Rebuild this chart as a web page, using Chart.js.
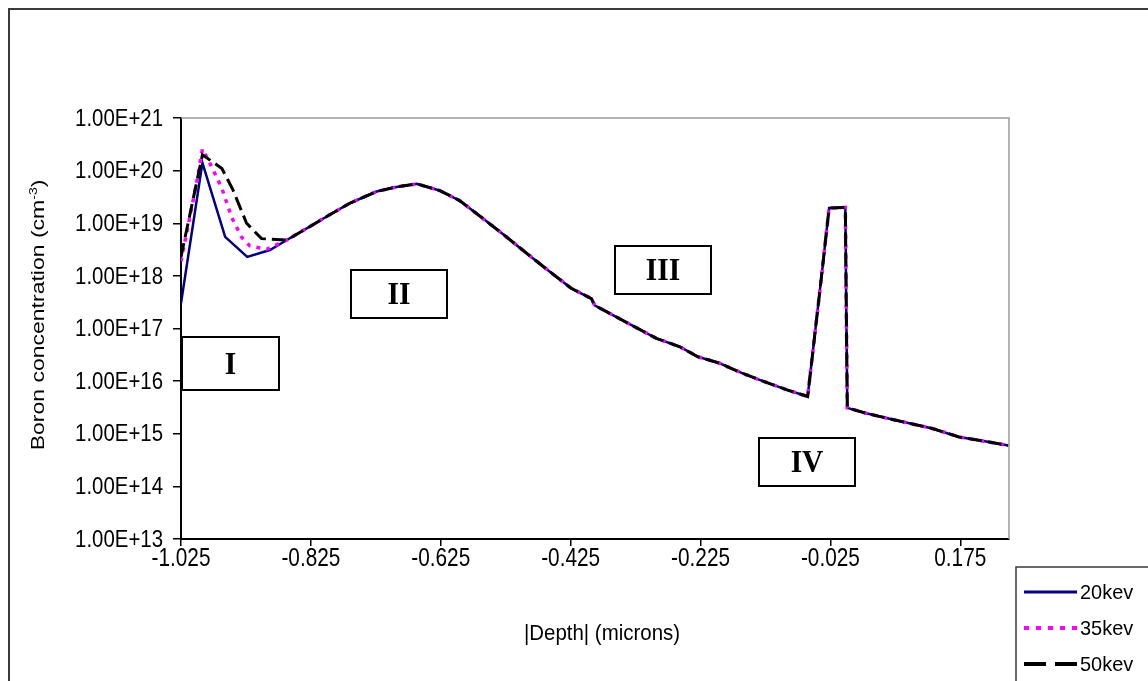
<!DOCTYPE html>
<html lang="en">

<head>
    <meta charset="UTF-8">
    <title>Boron profile</title>
    <script src="https://cdn.jsdelivr.net/npm/chart.js"></script>
    <style>
        html, body { margin: 0; padding: 0; background: #fff; }
        canvas { display: block; }
    </style>
</head>

<body>
    <canvas id="perfil" width="1148" height="681"></canvas>

<script>

// axis ticks
var xTicks = [-1.025, -0.825, -0.625, -0.425, -0.225, -0.025, 0.175];
var yTicks = [1e13, 1e14, 1e15, 1e16, 1e17, 1e18, 1e19, 1e20, 1e21];

// surface peak, different for each energy (depth in microns, conc in cm-3)
var depth20 = [-1.025, -0.992, -0.957, -0.923, -0.888];
var conc20  = [3.0e17, 1.4e20, 5.5e18, 2.3e18, 3.1e18];

var depth35 = [-1.025, -1.001, -0.992, -0.978, -0.962, -0.947, -0.932, -0.919, -0.893];
var conc35  = [1.9e18, 5.8e19, 2.6e20, 1.2e20, 4.6e19, 1.3e19, 5.5e18, 3.7e18, 3.2e18];

var depth50 = [-1.025, -1.006, -0.992, -0.962, -0.945, -0.924, -0.901];
var conc50  = [2.3e18, 3.0e19, 2.0e20, 1.1e20, 4.3e19, 1.0e19, 5.1e18];

// the rest of the profile is the same for the three energies
var depthTail = [-0.862, -0.832, -0.796, -0.765, -0.724, -0.693, -0.662, -0.627, -0.596, -0.560,
                 -0.529, -0.493, -0.457, -0.424, -0.393, -0.388, -0.360, -0.329, -0.293, -0.257,
                 -0.229, -0.196, -0.160, -0.129, -0.093, -0.060, -0.037, -0.027, -0.002, -0.0005,
                 0.001, 0.030, 0.076, 0.132, 0.173, 0.215, 0.249];
var concTail  = [4.8e18, 7.9e18, 1.45e19, 2.4e19, 4.0e19, 4.9e19, 5.6e19, 4.2e19, 2.7e19, 1.23e19,
                 6.2e18, 2.7e18, 1.2e18, 5.8e17, 3.7e17, 2.75e17, 1.8e17, 1.12e17, 6.5e16, 4.5e16,
                 2.9e16, 2.2e16, 1.4e16, 1.0e16, 6.9e15, 5.1e15, 1.5e18, 1.95e19, 2.0e19, 1.9e17,
                 3.1e15, 2.45e15, 1.8e15, 1.26e15, 8.7e14, 7.1e14, 6.0e14];

var legendas = ['20kev', '35kev', '50kev'];
var regioes = ['I', 'II', 'III', 'IV'];

function montarSerie(depthHead, concHead) {
    var xs = depthHead.concat(depthTail);
    var ys = concHead.concat(concTail);
    var pontos = [];
    for (var i = 0; i < xs.length; i++) {
        pontos.push({ x: xs[i], y: ys[i] });
    }
    return pontos;
}

var SANS = '"Liberation Sans", Arial, sans-serif';
var SERIF = '"Liberation Serif", "Times New Roman", serif';

function texto(ctx, str, x, y, font, sx, align, base) {
    ctx.save();
    ctx.translate(x, y);
    ctx.scale(sx, 1);
    ctx.font = font;
    ctx.textAlign = align;
    ctx.textBaseline = base;
    ctx.fillStyle = '#000';
    ctx.fillText(str, 0, 0);
    ctx.restore();
}

// labels, boxes, frame and legend drawn on top of the chart
var extras = {
    id: 'extras',
    afterDraw: function (chart) {
        var ctx = chart.ctx;
        var area = chart.chartArea;
        var sx = chart.scales.x;
        var sy = chart.scales.y;

        // outer frame
        ctx.save();
        ctx.strokeStyle = '#3a3a3a';
        ctx.lineWidth = 2;
        ctx.strokeRect(9, 9, 1160, 700);

        // top and right side of the plot area
        ctx.strokeStyle = '#9a9a9a';
        ctx.lineWidth = 1.5;
        ctx.beginPath();
        ctx.moveTo(area.left, area.top);
        ctx.lineTo(area.right, area.top);
        ctx.lineTo(area.right, area.bottom);
        ctx.stroke();
        ctx.restore();

        // tick labels
        for (var i = 0; i < sy.ticks.length; i++) {
            var lbl = sy.ticks[i].value.toExponential(2).toUpperCase();
            texto(ctx, lbl, 163, sy.getPixelForTick(i) + 1, '24px ' + SANS, 0.85, 'right', 'middle');
        }
        for (var j = 0; j < sx.ticks.length; j++) {
            var v = sx.ticks[j].value;
            texto(ctx, v.toFixed(3), sx.getPixelForTick(j), 559, '26px ' + SANS, 0.8, 'center', 'middle');
        }

        // axis titles
        texto(ctx, '|Depth| (microns)', (area.left + area.right) / 2 + 7, 634, '22px ' + SANS, 0.93, 'center', 'middle');

        ctx.save();
        ctx.translate(44, 315);
        ctx.rotate(-Math.PI / 2);
        ctx.scale(1, 0.8);
        ctx.fillStyle = '#000';
        ctx.textBaseline = 'alphabetic';
        ctx.textAlign = 'left';
        var parte1 = 'Boron concentration (cm';
        var sup = '-3';
        var fim = ')';
        ctx.font = '23px ' + SANS;
        var w1 = ctx.measureText(parte1).width;
        var w3 = ctx.measureText(fim).width;
        ctx.font = '14px ' + SANS;
        var w2 = ctx.measureText(sup).width;
        var inicio = -(w1 + w2 + w3) / 2;
        ctx.font = '23px ' + SANS;
        ctx.fillText(parte1, inicio, 0);
        ctx.fillText(fim, inicio + w1 + w2, 0);
        ctx.font = '14px ' + SANS;
        ctx.fillText(sup, inicio + w1, -9);
        ctx.restore();

        // region boxes
        var caixas = [
            [182, 337, 97, 53],
            [351, 270, 96, 48],
            [615, 246, 96, 48],
            [759, 438, 96, 48]
        ];
        for (var k = 0; k < caixas.length; k++) {
            var c = caixas[k];
            ctx.save();
            ctx.fillStyle = '#fff';
            ctx.fillRect(c[0], c[1], c[2], c[3]);
            ctx.strokeStyle = '#000';
            ctx.lineWidth = 2;
            ctx.strokeRect(c[0], c[1], c[2], c[3]);
            ctx.restore();
            texto(ctx, regioes[k], c[0] + c[2] / 2, c[1] + c[3] / 2 + 2, 'bold 31px ' + SERIF, 0.95, 'center', 'middle');
        }

        // legend
        ctx.save();
        ctx.strokeStyle = '#3a3a3a';
        ctx.lineWidth = 1.5;
        ctx.strokeRect(1016, 567, 150, 130);
        ctx.restore();
        var ds = chart.data.datasets;
        var linhasY = [592, 628, 664];
        for (var m = 0; m < ds.length; m++) {
            ctx.save();
            ctx.strokeStyle = ds[m].borderColor;
            ctx.lineWidth = ds[m].legendWidth;
            ctx.setLineDash(ds[m].legendDash);
            ctx.beginPath();
            ctx.moveTo(1024, linhasY[m]);
            ctx.lineTo(1077, linhasY[m]);
            ctx.stroke();
            ctx.restore();
            texto(ctx, ds[m].label, 1080, linhasY[m] + 1, '21px ' + SANS, 0.95, 'left', 'middle');
        }
    }
};

var config = {
    type: 'line',
    data: {
        datasets: [
            {
                label: legendas[0],
                data: montarSerie(depth20, conc20),
                borderColor: '#000080',
                borderWidth: 2.5,
                pointRadius: 0,
                tension: 0,
                order: 2,
                legendWidth: 3,
                legendDash: []
            },
            {
                label: legendas[1],
                data: montarSerie(depth35, conc35),
                borderColor: '#ff00ff',
                borderWidth: 3.5,
                borderDash: [4, 6],
                pointRadius: 0,
                tension: 0,
                order: 1,
                legendWidth: 4,
                legendDash: [5, 7]
            },
            {
                label: legendas[2],
                data: montarSerie(depth50, conc50),
                borderColor: '#000000',
                borderWidth: 3,
                borderDash: [14, 6],
                pointRadius: 0,
                tension: 0,
                order: 0,
                legendWidth: 4,
                legendDash: [22, 9]
            }
        ]
    },
    options: {
        responsive: false,
        animation: false,
        devicePixelRatio: 1,
        layout: { padding: { left: 0, top: 118, right: 139, bottom: 0 } },
        plugins: {
            legend: { display: false },
            title: { display: false },
            tooltip: { enabled: false }
        },
        scales: {
            x: {
                type: 'linear',
                min: -1.025,
                max: 0.25,
                afterBuildTicks: function (scale) {
                    scale.ticks = xTicks.map(function (v) { return { value: v }; });
                },
                afterFit: function (scale) { scale.height = 142; },
                ticks: { display: false },
                grid: { drawOnChartArea: false, drawTicks: true, tickLength: 7, color: '#000', lineWidth: 1.5 },
                border: { color: '#000', width: 2 }
            },
            y: {
                type: 'logarithmic',
                min: 1e13,
                max: 1e21,
                afterBuildTicks: function (scale) {
                    scale.ticks = yTicks.map(function (v) { return { value: v }; });
                },
                afterFit: function (scale) { scale.width = 181; },
                ticks: { display: false },
                grid: { drawOnChartArea: false, drawTicks: true, tickLength: 8, color: '#000', lineWidth: 1.5 },
                border: { color: '#000', width: 2 }
            }
        }
    },
    plugins: [extras]
};

var grafico = new Chart(document.getElementById('perfil').getContext('2d'), config);
</script>
</body>

</html>
